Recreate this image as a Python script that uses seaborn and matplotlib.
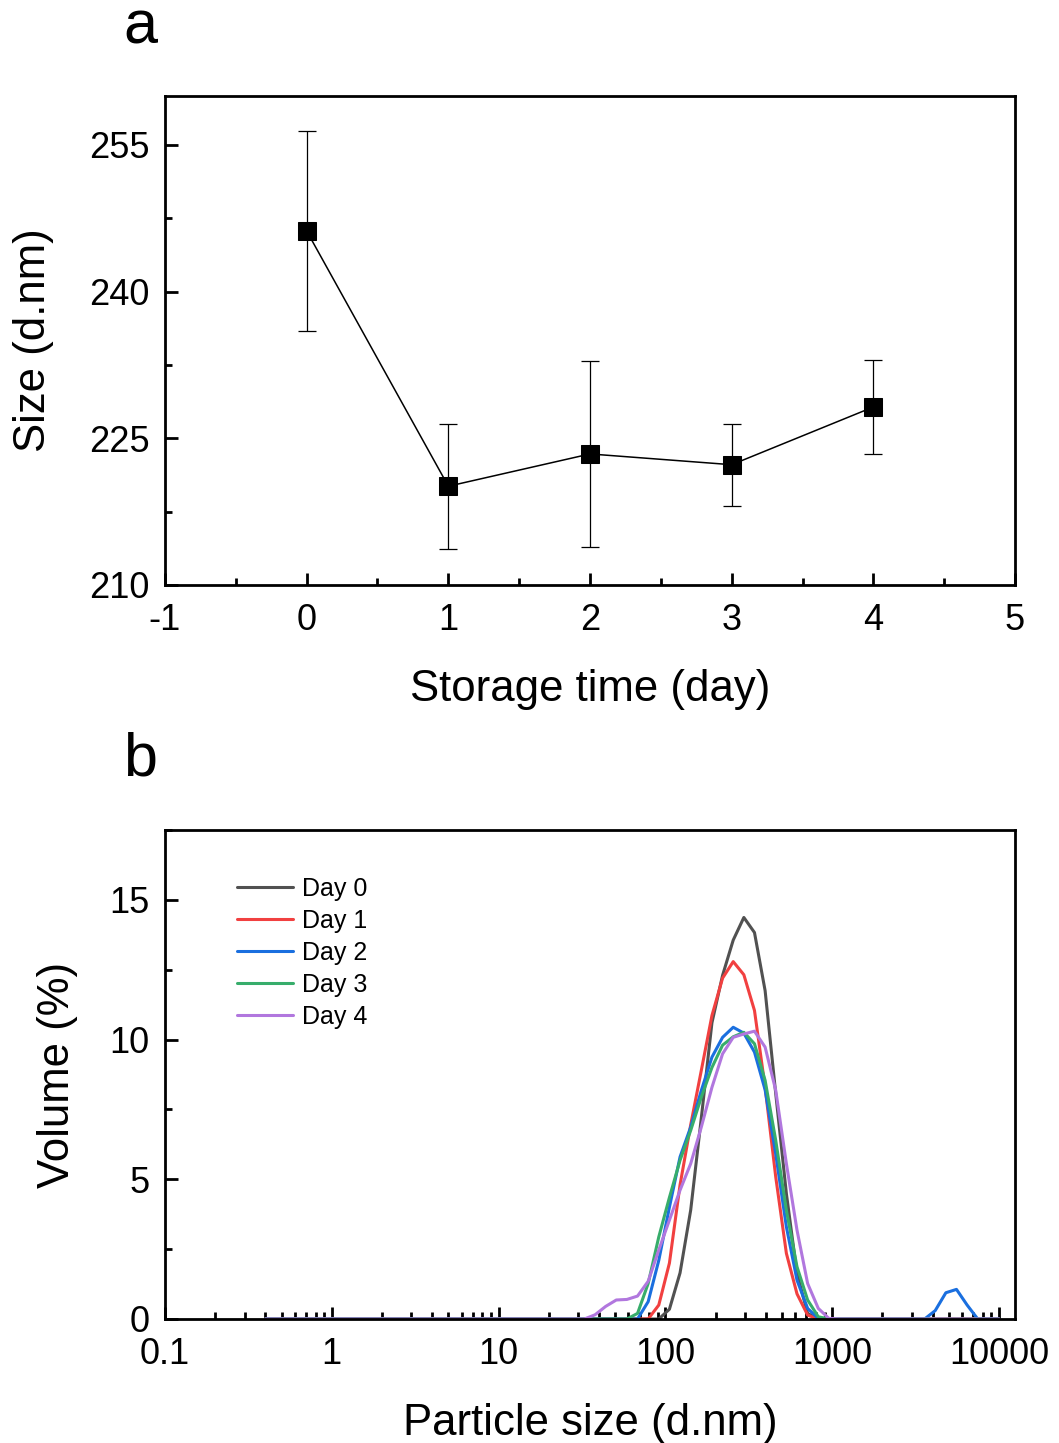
import numpy as np
import matplotlib
matplotlib.use('Agg')
import matplotlib.pyplot as plt
import matplotlib.ticker as mticker
import pandas as pd
import seaborn as sns

# Panel a: mean size over storage time
days = [0, 1, 2, 3, 4]
size_mean = [246.2, 220.1, 223.4, 222.3, 228.2]
size_err = [10.2, 6.4, 9.5, 4.2, 4.8]

# Panel b: size distributions (volume %), Zetasizer size classes
size_bins = [0.4, 32.67, 37.84, 43.82, 50.75, 58.77, 68.06, 78.82, 91.28, 105.7,
             122.4, 141.8, 164.2, 190.1, 220.2, 255.0, 295.3, 342.0, 396.1, 458.7,
             531.2, 615.1, 712.4, 825.0, 955.4, 1106, 3580, 4145, 4801, 5560,
             6439, 7456, 10000]
day0 = [0, 0, 0, 0, 0, 0, 0, 0, 0, 0.35,
        1.65, 3.9, 7.2, 10.6, 12.3, 13.56, 14.37, 13.83, 11.75, 8.06,
        4.49, 1.63, 0.2, 0, 0, 0, 0, 0, 0, 0,
        0, 0, 0]
day1 = [0, 0, 0, 0, 0, 0, 0, 0, 0.5, 2.0,
        4.8, 6.95, 8.9, 10.86, 12.2, 12.79, 12.32, 11.04, 8.29, 5.08,
        2.35, 0.9, 0.14, 0, 0, 0, 0, 0, 0, 0,
        0, 0, 0]
day2 = [0, 0, 0, 0, 0, 0, 0, 0.62, 2.1, 4.0,
        5.8, 6.87, 8.18, 9.37, 10.08, 10.44, 10.23, 9.55, 8.2, 5.9,
        3.3, 1.39, 0.38, 0.02, 0, 0, 0, 0.3, 0.94, 1.06,
        0.5, 0, 0]
day3 = [0, 0, 0, 0, 0, 0, 0.2, 1.27, 2.94, 4.35,
        5.68, 6.75, 7.94, 9.0, 9.8, 10.1, 10.26, 9.85, 8.54, 6.39,
        3.89, 1.87, 0.68, 0.08, 0, 0, 0, 0, 0, 0,
        0, 0, 0]
day4 = [0, 0, 0.15, 0.45, 0.68, 0.7, 0.82, 1.35, 2.47, 3.54,
        4.61, 5.56, 6.87, 8.29, 9.49, 10.08, 10.2, 10.3, 9.73, 8.18,
        5.56, 3.18, 1.27, 0.38, 0.02, 0, 0, 0, 0, 0,
        0, 0, 0]
day_labels = ['Day 0', 'Day 1', 'Day 2', 'Day 3', 'Day 4']
line_colors = ['#515151', '#F14040', '#1A6FDF', '#37AD6B', '#B177DE']

sns.set_theme(style='ticks')
plt.rcParams['font.family'] = ['Liberation Sans', 'DejaVu Sans']
plt.rcParams['axes.unicode_minus'] = False
for key in ['text.color', 'axes.labelcolor', 'xtick.color', 'ytick.color', 'axes.edgecolor']:
    plt.rcParams[key] = 'black'
plt.rcParams['xtick.direction'] = 'in'
plt.rcParams['ytick.direction'] = 'in'

W, H = 1059, 1443
fig = plt.figure(figsize=(W / 100, H / 100), dpi=100)


def style_axes(ax):
    for sp in ax.spines.values():
        sp.set_linewidth(2.0)
        sp.set_color('black')
    ax.tick_params(which='major', length=9, width=2.0, labelsize=26, pad=11, colors='black')
    ax.tick_params(which='minor', length=5, width=2.0)
    ax.tick_params(top=False, right=False, which='both')
    ax.tick_params(axis='x', which='major', pad=13)


# ---- panel a ----
ax1 = fig.add_axes([165 / W, 1 - 585 / H, 850 / W, 489 / H])
df_a = pd.DataFrame({'day': days, 'size': size_mean})
ax1.errorbar(days, size_mean, yerr=size_err, fmt='none', ecolor='black',
             elinewidth=0.9, capsize=6.5, capthick=0.9, zorder=2)
sns.lineplot(data=df_a, x='day', y='size', ax=ax1, color='black', linewidth=1.1,
             marker='s', markersize=13.5, markeredgecolor='black', zorder=3)
ax1.set_xlim(-1, 5)
ax1.set_ylim(210, 260)
ax1.set_xticks([-1, 0, 1, 2, 3, 4, 5])
ax1.set_yticks([210, 225, 240, 255])
ax1.xaxis.set_minor_locator(mticker.MultipleLocator(0.5))
ax1.yaxis.set_minor_locator(mticker.MultipleLocator(7.5))
ax1.set_xlabel('Storage time (day)', fontsize=31.5, labelpad=22)
ax1.set_ylabel('Size (d.nm)', fontsize=31.5, labelpad=25)
style_axes(ax1)

# ---- panel b ----
ax2 = fig.add_axes([165 / W, 1 - 1319 / H, 850 / W, 489 / H])
rows = []
for lab, vals in zip(day_labels, [day0, day1, day2, day3, day4]):
    for x, v in zip(size_bins, vals):
        rows.append({'size': x, 'volume': v, 'day': lab})
df_b = pd.DataFrame(rows)
sns.lineplot(data=df_b, x='size', y='volume', hue='day', palette=line_colors,
             ax=ax2, linewidth=2.2, sort=False, estimator=None)
ax2.set_xscale('log')
ax2.set_xlim(0.1, 12470)
ax2.set_ylim(0, 17.5)
ax2.set_xticks([0.1, 1, 10, 100, 1000, 10000])
ax2.set_xticklabels(['0.1', '1', '10', '100', '1000', '10000'])
ax2.xaxis.set_minor_locator(mticker.LogLocator(base=10, subs=np.arange(2, 10), numticks=20))
ax2.xaxis.set_minor_formatter(mticker.NullFormatter())
ax2.set_yticks([0, 5, 10, 15])
ax2.yaxis.set_minor_locator(mticker.MultipleLocator(2.5))
ax2.set_xlabel('Particle size (d.nm)', fontsize=31.5, labelpad=22)
ax2.set_ylabel('Volume (%)', fontsize=31.5, labelpad=23)
style_axes(ax2)
ax2.legend(loc='upper left', bbox_to_anchor=((237 - 165) / 850, (1319 - 877) / 489),
           frameon=False, fontsize=18, handlelength=2.25, handletextpad=0.35,
           labelspacing=0.32, borderpad=0, borderaxespad=0, title=None)

fig.text(140 / W, 1 - 28 / H, 'a', ha='center', va='center', fontsize=44)
fig.text(140 / W, 1 - 760 / H, 'b', ha='center', va='center', fontsize=44)

fig.savefig('out.png', dpi=100)
